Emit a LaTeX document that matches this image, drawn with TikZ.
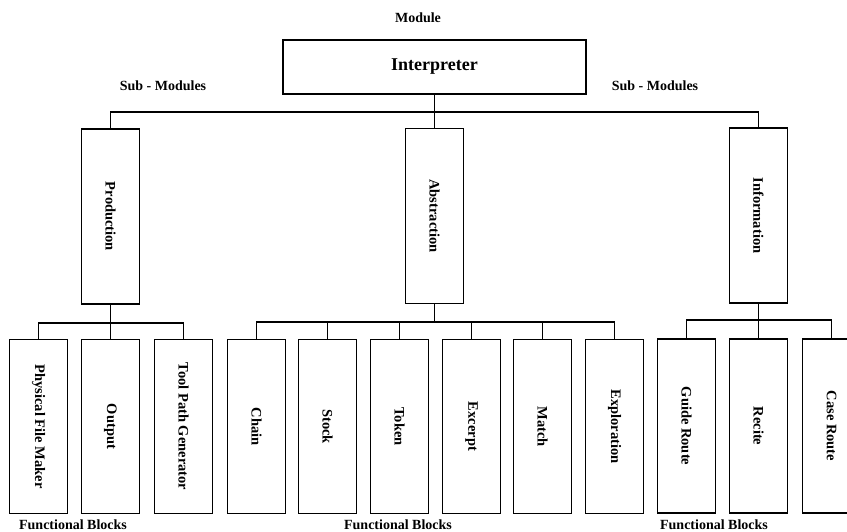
\documentclass[tikz,border=0pt]{standalone}
\usepackage{fontspec}
\setmainfont{Liberation Serif}
\usepackage{tikz}

\begin{document}
\begin{tikzpicture}[x=1pt,y=-1pt,
	box/.style={draw,line width=1.1pt,inner sep=0pt,font=\bfseries\fontsize{14.5}{16}\selectfont},
	subbox/.style={box,minimum width=58pt,minimum height=175pt},
	leafbox/.style={box,minimum width=58pt,minimum height=174pt},
	tag/.style={font=\bfseries\fontsize{14}{16}\selectfont},
	wire/.style={line width=1.1pt}]
	\clip (0,0) rectangle (847,532);
	
	\node[tag] (module) at (418,18) {Module};
	\node[box,minimum width=303pt,minimum height=54pt,font=\bfseries\fontsize{18}{20}\selectfont] (interp) at (434.5,67) {Interpreter};
	\node[tag] (subl) at (163,86) {Sub - Modules};
	\node[tag] (subr) at (655,86) {Sub - Modules};
	
	\node[subbox] (prod) at (110.5,216.5) {\rotatebox{-90}{Production}};
	\node[subbox] (abs) at (434.5,216) {\rotatebox{-90}{Abstraction}};
	\node[subbox] (info) at (758.5,215.5) {\rotatebox{-90}{Information}};
	
	\coordinate (top) at (interp.south |- 0,112);
	\draw[wire] (interp.south) -- (top);
	\draw[wire] (prod.north) |- (top) -| (info.north);
	\draw[wire] (top) -- (abs.north);
	
	\node[leafbox] (maker) at (38.5,426.5) {\rotatebox{-90}{Physical File Maker}};
	\node[leafbox] (output) at (110.5,426.5) {\rotatebox{-90}{Output}};
	\node[leafbox] (toolpath) at (183.5,426.5) {\rotatebox{-90}{Tool Path Generator}};
	\node[leafbox] (chain) at (256.5,426.5) {\rotatebox{-90}{Chain}};
	\node[leafbox] (stock) at (327.5,426.5) {\rotatebox{-90}{Stock}};
	\node[leafbox] (token) at (399.5,426.5) {\rotatebox{-90}{Token}};
	\node[leafbox] (excerpt) at (471.5,426.5) {\rotatebox{-90}{Excerpt}};
	\node[leafbox] (match) at (542.5,426.5) {\rotatebox{-90}{Match}};
	\node[leafbox] (explor) at (614.5,426.5) {\rotatebox{-90}{Exploration}};
	\node[leafbox] (guide) at (686.5,426) {\rotatebox{-90}{Guide Route}};
	\node[leafbox] (recite) at (758.5,426) {\rotatebox{-90}{Recite}};
	\node[leafbox] (case) at (831.5,426) {\rotatebox{-90}{Case Route}};
	
	% production branch
	\coordinate (pbus) at (prod.south |- 0,323);
	\draw[wire] (prod.south) -- (pbus);
	\draw[wire] (maker.north) |- (pbus) -| (toolpath.north);
	\draw[wire] (pbus) -- (output.north);
	
	% abstraction branch
	\coordinate (abus) at (abs.south |- 0,322);
	\draw[wire] (abs.south) -- (abus);
	\draw[wire] (chain.north) |- (abus) -| (explor.north);
	\foreach \n in {stock,token,excerpt,match}
		\draw[wire] (\n.north) -- (\n.north |- abus);
	
	% information branch
	\coordinate (ibus) at (info.south |- 0,320);
	\draw[wire] (info.south) -- (ibus);
	\draw[wire] (guide.north) |- (ibus) -| (case.north);
	\draw[wire] (ibus) -- (recite.north);
	
	\node[tag] (fbl) at (73,525) {Functional Blocks};
	\node[tag] (fbm) at (398,525) {Functional Blocks};
	\node[tag] (fbr) at (714,525) {Functional Blocks};
\end{tikzpicture}
\end{document}
